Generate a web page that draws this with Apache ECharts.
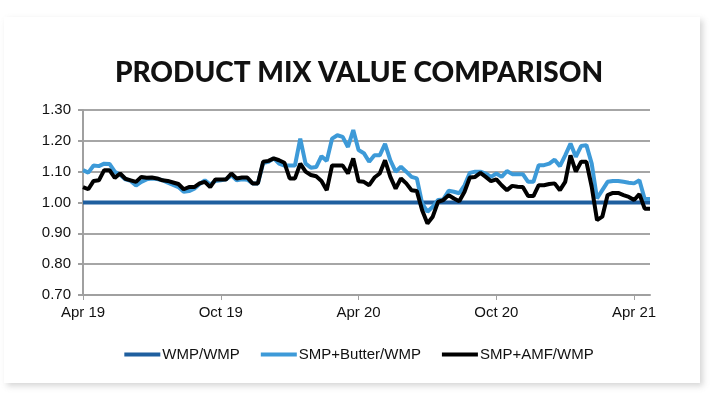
<!DOCTYPE html>
<html>
<head>
<meta charset="utf-8">
<script src="https://cdn.jsdelivr.net/npm/echarts@6/dist/echarts.min.js"></script>
<style>
  html, body { margin: 0; padding: 0; background: #fff; }
  .card {
    position: absolute;
    left: 4px; top: 17px;
    width: 696px; height: 366px;
    background: #fff;
    box-shadow: 3px 3px 6px 0 rgb(120 120 120 / 30%);
  }
  #chart { position: absolute; left: 0; top: 0; width: 718px; height: 398px; }
</style>
</head>
<body>
<div class="card"></div>
<div id="chart"></div>
<script>
// weekly points, Apr 19 .. ~mid Apr 21
const weeks = Array.from({ length: 108 }, (_, i) => 'W' + i)
// tick labels and the week they sit on
const tickWeeks = [0, 26, 52, 78, 104]
const tickLabels = ['Apr 19', 'Oct 19', 'Apr 20', 'Oct 20', 'Apr 21']

const wmpWmp = [
  1.00, 1.00, 1.00, 1.00, 1.00, 1.00, 1.00, 1.00, 1.00, 1.00, 1.00, 1.00, 1.00, 1.00, 1.00, 1.00, 1.00, 1.00,
  1.00, 1.00, 1.00, 1.00, 1.00, 1.00, 1.00, 1.00, 1.00, 1.00, 1.00, 1.00, 1.00, 1.00, 1.00, 1.00, 1.00, 1.00,
  1.00, 1.00, 1.00, 1.00, 1.00, 1.00, 1.00, 1.00, 1.00, 1.00, 1.00, 1.00, 1.00, 1.00, 1.00, 1.00, 1.00, 1.00,
  1.00, 1.00, 1.00, 1.00, 1.00, 1.00, 1.00, 1.00, 1.00, 1.00, 1.00, 1.00, 1.00, 1.00, 1.00, 1.00, 1.00, 1.00,
  1.00, 1.00, 1.00, 1.00, 1.00, 1.00, 1.00, 1.00, 1.00, 1.00, 1.00, 1.00, 1.00, 1.00, 1.00, 1.00, 1.00, 1.00,
  1.00, 1.00, 1.00, 1.00, 1.00, 1.00, 1.00, 1.00, 1.00, 1.00, 1.00, 1.00, 1.00, 1.00, 1.00, 1.00, 1.00, 1.00
]

const smpButter = [
  1.105, 1.097, 1.120, 1.118, 1.126, 1.125, 1.100, 1.090, 1.075, 1.070, 1.055, 1.067, 1.075, 1.078, 1.076, 1.072, 1.064, 1.057,
  1.050, 1.035, 1.037, 1.045, 1.060, 1.072, 1.058, 1.070, 1.072, 1.075, 1.088, 1.072, 1.075, 1.074, 1.062, 1.062, 1.128, 1.132,
  1.143, 1.126, 1.120, 1.120, 1.120, 1.207, 1.126, 1.113, 1.115, 1.150, 1.135, 1.207, 1.218, 1.213, 1.180, 1.235, 1.170, 1.160,
  1.132, 1.153, 1.153, 1.190, 1.137, 1.100, 1.116, 1.100, 1.083, 1.078, 0.997, 0.970, 0.986, 1.008, 1.010, 1.038, 1.035, 1.030,
  1.056, 1.096, 1.100, 1.100, 1.094, 1.083, 1.094, 1.083, 1.102, 1.092, 1.092, 1.092, 1.067, 1.067, 1.121, 1.121, 1.126, 1.139,
  1.118, 1.153, 1.191, 1.148, 1.183, 1.186, 1.126, 1.013, 1.040, 1.067, 1.070, 1.070, 1.067, 1.064, 1.062, 1.072, 1.011, 1.011
]

const smpAmf = [
  1.050, 1.043, 1.070, 1.072, 1.105, 1.105, 1.080, 1.094, 1.077, 1.072, 1.067, 1.083, 1.080, 1.081, 1.078, 1.072, 1.070, 1.065,
  1.060, 1.043, 1.050, 1.050, 1.062, 1.067, 1.050, 1.075, 1.075, 1.075, 1.094, 1.078, 1.081, 1.081, 1.062, 1.062, 1.132, 1.135,
  1.143, 1.137, 1.129, 1.078, 1.078, 1.126, 1.100, 1.089, 1.085, 1.070, 1.040, 1.120, 1.120, 1.120, 1.094, 1.143, 1.069, 1.067,
  1.056, 1.081, 1.094, 1.137, 1.083, 1.045, 1.078, 1.062, 1.040, 1.037, 0.975, 0.932, 0.954, 1.002, 1.008, 1.024, 1.013, 1.004,
  1.035, 1.081, 1.083, 1.096, 1.083, 1.069, 1.075, 1.056, 1.040, 1.054, 1.051, 1.050, 1.021, 1.021, 1.056, 1.056, 1.060, 1.062,
  1.040, 1.067, 1.153, 1.100, 1.132, 1.132, 1.051, 0.943, 0.954, 1.024, 1.031, 1.031, 1.024, 1.018, 1.008, 1.027, 0.980, 0.980
]

const isTick = (idx) => tickWeeks.indexOf(idx) !== -1
const sans = 'Liberation Sans, Arial, sans-serif'

const chart = echarts.init(document.getElementById('chart'))
chart.setOption({
  animation: false,
  title: {
    text: 'PRODUCT MIX VALUE COMPARISON',
    left: 'center',
    top: 54,
    textStyle: {
      fontFamily: 'Lato, sans-serif',
      fontWeight: 900,
      fontSize: 28,
      color: '#111'
    }
  },
  legend: {
    bottom: 31,
    left: 'center',
    icon: 'rect',
    itemWidth: 36,
    itemHeight: 4,
    itemGap: 21,
    textStyle: { fontFamily: sans, fontSize: 15, color: '#111', padding: [0, 0, 0, -3] },
    data: ['WMP/WMP', 'SMP+Butter/WMP', 'SMP+AMF/WMP']
  },
  grid: { left: 83, right: 68, top: 110, bottom: 103 },
  xAxis: {
    type: 'category',
    data: weeks,
    boundaryGap: false,
    axisLine: { lineStyle: { color: '#a0a0a0', width: 2 } },
    axisTick: { interval: (i) => isTick(i), length: 5, lineStyle: { color: '#a0a0a0', width: 1 } },
    axisLabel: {
      interval: (i) => isTick(i),
      formatter: (v, i) => tickLabels[tickWeeks.indexOf(i)] || '',
      fontFamily: sans,
      fontSize: 15,
      color: '#111',
      margin: 10
    },
    splitLine: { show: false }
  },
  yAxis: {
    type: 'value',
    min: 0.7,
    max: 1.3,
    interval: 0.1,
    axisLine: { show: true, lineStyle: { color: '#a0a0a0', width: 2 } },
    axisTick: { show: true, length: 5, lineStyle: { color: '#a0a0a0', width: 2 } },
    axisLabel: { formatter: (v) => v.toFixed(2), fontFamily: sans, fontSize: 15, color: '#111', margin: 12 },
    splitLine: { lineStyle: { color: '#a6a6a6', width: 2 } }
  },
  series: [
    {
      name: 'WMP/WMP',
      type: 'line',
      data: wmpWmp,
      symbol: 'none',
      color: '#1f5f9f',
      lineStyle: { width: 4 }
    },
    {
      name: 'SMP+Butter/WMP',
      type: 'line',
      data: smpButter,
      symbol: 'none',
      color: '#3d9ad8',
      lineStyle: { width: 4 }
    },
    {
      name: 'SMP+AMF/WMP',
      type: 'line',
      data: smpAmf,
      symbol: 'none',
      color: '#000000',
      lineStyle: { width: 4 }
    }
  ]
})
</script>
</body>
</html>
